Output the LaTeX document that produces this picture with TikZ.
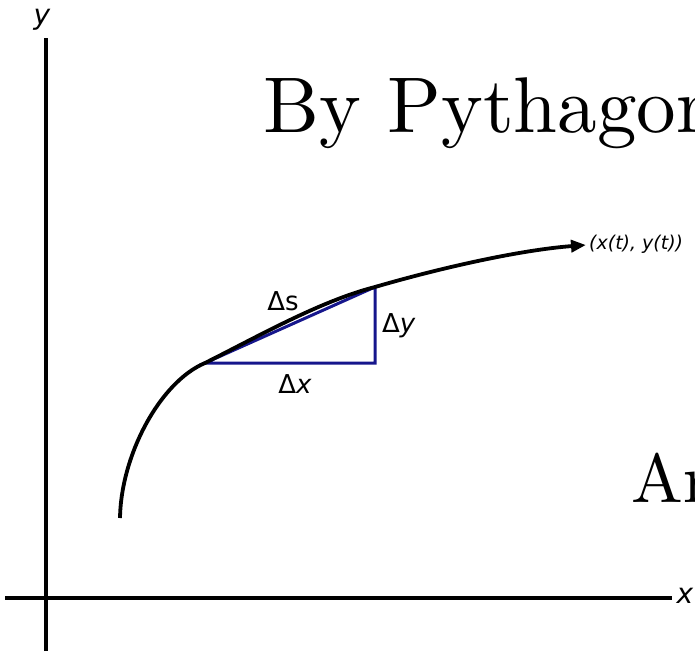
\documentclass[tikz,border=0pt]{standalone}
\usepackage{fontspec}
\newfontfamily\lblfont{DejaVu Sans}
\usetikzlibrary{positioning, arrows.meta, calc}
\definecolor{trinavy}{RGB}{22,22,140}

\begin{document}
\begin{tikzpicture}[x=1pt, y=-1pt,
  axis/.style={line width=3.5pt},
  curv/.style={line width=3.8pt, -{Triangle[length=15pt, width=12pt]}},
  tri/.style={draw=trinavy, line width=3pt, line join=miter},
  lbl/.style={font=\lblfont\fontsize{26}{26}\selectfont, inner sep=0pt},
  pt/.style={font=\lblfont\fontsize{19}{19}\selectfont\itshape, inner sep=0pt},
  big/.style={inner sep=0pt, anchor=base west, font=\fontsize{10}{12}\selectfont, transform shape}
]
  \clip (0,0) rectangle (695,651);

  % axes
  \coordinate (ybot) at (46,651);
  \coordinate (ytop) at (46,38);
  \coordinate (xleft) at (5,598);
  \coordinate (xright) at (672,598);
  \draw[axis] (ybot) -- (ytop);
  \draw[axis] (xleft) -- (xright);
  \node[lbl, font=\lblfont\fontsize{28}{28}\selectfont\itshape] (ylab) at (42,20) {y};
  \node[lbl, font=\lblfont\fontsize{28}{28}\selectfont\itshape] (xlab) at (685,596) {x};

  % curve and triangle
  \coordinate (c0) at (120,518);
  \coordinate (p) at (205,363);
  \coordinate (q) at (375,287);
  \coordinate (r) at (375,363);
  \coordinate (cend) at (586,245);
  \draw[tri] (p) -- (q) -- (r) -- cycle;
  \draw[curv] (c0) .. controls (121,455) and (160,382) .. (p)
    .. controls (255,338) and (320,301) .. (q)
    .. controls (440,268) and (520,250) .. (cend);

  \node[pt, anchor=west] (pos) at (589,244) {(x(t), y(t))};
  \node[lbl] (ds) at (283,301) {Δs};
  \node[lbl, anchor=west] (dy) at (382,326) {Δ\textit{y}};
  \node[lbl] (dx) at (295,384) {Δ\textit{x}};

  % overlaid slide text
  \node[big, scale=7.9] (pyth) at (262,132) {By Pythagor};
  \node[big, scale=6.9] (arc) at (630,502) {Ar};
\end{tikzpicture}
\end{document}
